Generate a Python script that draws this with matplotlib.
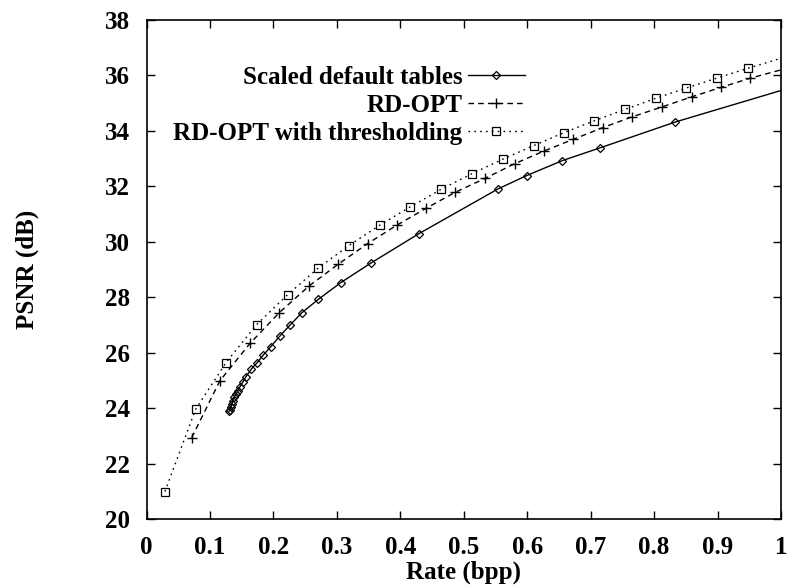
import matplotlib
matplotlib.use("Agg")
import matplotlib.pyplot as plt

# Scaled default tables
rate_scaled = [0.130, 0.1316, 0.1332, 0.1348, 0.1363, 0.1384, 0.141, 0.1437, 0.1474,
               0.1516, 0.1568, 0.165, 0.1746, 0.1836, 0.1957, 0.2099, 0.2257, 0.245,
               0.2708, 0.306, 0.3538, 0.4295, 0.554, 0.599, 0.6553, 0.7147, 0.833, 1.05]
psnr_scaled = [23.90, 23.94, 24.06, 24.16, 24.28, 24.40, 24.52, 24.62, 24.78,
               24.94, 25.14, 25.41, 25.65, 25.91, 26.22, 26.60, 26.99, 27.45,
               27.93, 28.53, 29.24, 30.30, 31.91, 32.39, 32.93, 33.39, 34.32, 35.80]

# RD-OPT
rate_rdopt = [0.0712, 0.1158, 0.1631, 0.2093, 0.2561, 0.3023, 0.3486, 0.3943, 0.4405,
              0.4867, 0.5335, 0.5803, 0.6268, 0.6727, 0.719, 0.7656, 0.8129, 0.8593,
              0.9054, 0.9512, 1.04]
psnr_rdopt = [22.94, 25.00, 26.34, 27.45, 28.41, 29.20, 29.94, 30.60, 31.21,
              31.79, 32.29, 32.82, 33.28, 33.70, 34.12, 34.51, 34.87, 35.23,
              35.57, 35.90, 36.45]

# RD-OPT with thresholding
rate_thr = [0.029, 0.0775, 0.1253, 0.1736, 0.2225, 0.2708, 0.3191, 0.3675, 0.416,
            0.4647, 0.513, 0.5613, 0.61, 0.658, 0.706, 0.7546, 0.8029, 0.851,
            0.8996, 0.948, 1.045]
psnr_thr = [21.00, 23.97, 25.65, 27.02, 28.10, 29.06, 29.87, 30.60, 31.27,
            31.90, 32.46, 32.98, 33.47, 33.94, 34.37, 34.78, 35.18, 35.55,
            35.91, 36.26, 36.93]

series_labels = ["Scaled default tables", "RD-OPT", "RD-OPT with thresholding"]
x_ticks = [0, 0.1, 0.2, 0.3, 0.4, 0.5, 0.6, 0.7, 0.8, 0.9, 1]
x_tick_labels = ["0", "0.1", "0.2", "0.3", "0.4", "0.5", "0.6", "0.7", "0.8", "0.9", "1"]
y_ticks = [20, 22, 24, 26, 28, 30, 32, 34, 36, 38]
x_label = "Rate (bpp)"
y_label = "PSNR (dB)"

plt.rcParams['font.family'] = ['Liberation Serif', 'DejaVu Serif']
plt.rcParams['font.weight'] = 'bold'

FS = 18

fig = plt.figure(figsize=(7.88, 5.86), dpi=100)
ax = fig.add_axes([146.5 / 788, 1 - 519.3 / 586, (781 - 146.5) / 788, (519.3 - 20) / 586])

ax.plot(rate_scaled, psnr_scaled, color='black', lw=1.0, ls='-',
        marker='D', markersize=4.3, markerfacecolor='none', markeredgecolor='black',
        markeredgewidth=0.9, label=series_labels[0])
ax.plot(rate_rdopt, psnr_rdopt, color='black', lw=1.0, ls=(0, (4, 3)),
        marker='+', markersize=7.5, markeredgewidth=1.0, label=series_labels[1])
ax.plot(rate_thr, psnr_thr, color='black', lw=1.0, ls=(0, (1.2, 3)),
        marker='s', markersize=6, markerfacecolor='none', markeredgecolor='black',
        markeredgewidth=0.9, label=series_labels[2])

ax.set_xlim(0, 1)
ax.set_ylim(20, 38)
ax.set_xticks(x_ticks)
ax.set_xticklabels(x_tick_labels)
ax.set_yticks(y_ticks)
ax.tick_params(direction='in', length=6, width=1, top=True, right=True,
               labelsize=FS, pad=12)
for lab in ax.get_xticklabels() + ax.get_yticklabels():
    lab.set_fontweight('bold')
for s in ax.spines.values():
    s.set_linewidth(1.2)

ax.set_xlabel(x_label, fontsize=FS, fontweight='bold', labelpad=1)
ax.set_ylabel(y_label, fontsize=FS, fontweight='bold', labelpad=47.5)

leg = ax.legend(loc='upper right', bbox_to_anchor=((525 - 146.5) / 634.5, (519.3 - 66) / 499.3),
                frameon=False, markerfirst=False, fontsize=FS, handlelength=2.3,
                handletextpad=0.2, labelspacing=0.19, borderpad=0, borderaxespad=0)
for t in leg.get_texts():
    t.set_fontweight('bold')

fig.savefig("out.png", dpi=100)
